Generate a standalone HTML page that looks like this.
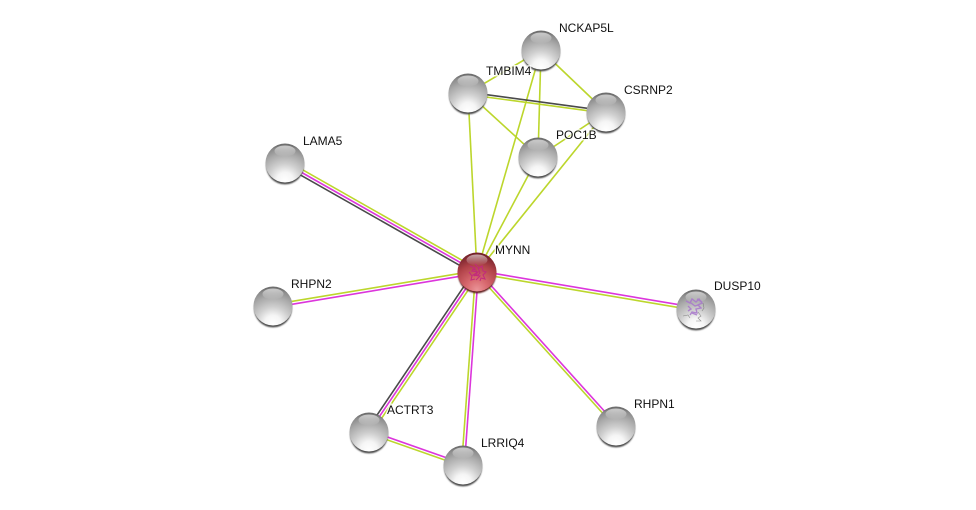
<!DOCTYPE html>
<html><head><meta charset="utf-8"><style>
html,body{margin:0;padding:0;background:#fff;width:976px;height:510px;overflow:hidden}
svg{display:block}
text{font-family:"Liberation Sans",sans-serif;font-size:12px;fill:#111;paint-order:stroke;stroke:rgba(255,255,255,.75);stroke-width:3px}
.g{stroke:#bcd62c;stroke-width:1.6;fill:none}
.m{stroke:#dc35dc;stroke-width:1.6;fill:none}
.d{stroke:#4a4a4a;stroke-width:1.6;fill:none}
</style></head><body>
<svg width="976" height="510" viewBox="0 0 976 510" xmlns="http://www.w3.org/2000/svg">
<defs>
<radialGradient id="s" cx="50%" cy="96%" r="92%" fx="50%" fy="96%">
<stop offset="0" stop-color="#ffffff"/><stop offset=".24" stop-color="#f5f5f5"/><stop offset=".48" stop-color="#cecece"/><stop offset=".76" stop-color="#a9a9a9"/><stop offset=".94" stop-color="#8c8c8c"/><stop offset="1" stop-color="#6e6e6e"/>
</radialGradient>
<radialGradient id="r" cx="50%" cy="96%" r="92%" fx="50%" fy="96%">
<stop offset="0" stop-color="#ea9498"/><stop offset=".3" stop-color="#d96a70"/><stop offset=".7" stop-color="#b04248"/><stop offset="1" stop-color="#74222a"/>
</radialGradient>
<linearGradient id="h" x1="0" y1="0" x2="0" y2="1">
<stop offset="0" stop-color="#fff" stop-opacity=".6"/><stop offset="1" stop-color="#fff" stop-opacity="0"/>
</linearGradient>
<filter id="b" x="-20%" y="-20%" width="140%" height="140%"><feGaussianBlur stdDeviation=".8"/></filter>
<g id="n">
<circle cx="0" cy="2.4" r="19" fill="#4a4a4a" filter="url(#b)"/>
<circle r="19.5" fill="url(#s)"/>
<ellipse cx="0" cy="-12" rx="10.5" ry="5.5" fill="url(#h)"/>
</g>
</defs>

<!-- green-only edges -->
<line class="g" x1="477" y1="272" x2="541" y2="50"/>
<line class="g" x1="477" y1="272" x2="468" y2="93"/>
<line class="g" x1="477" y1="272" x2="538" y2="157"/>
<line class="g" x1="477" y1="272" x2="606" y2="112"/>
<line class="g" x1="541" y1="50" x2="468" y2="93"/>
<line class="g" x1="541" y1="50" x2="606" y2="112"/>
<line class="g" x1="541" y1="50" x2="538" y2="157"/>
<line class="g" x1="468" y1="93" x2="538" y2="157"/>
<line class="g" x1="606" y1="112" x2="538" y2="157"/>
<line class="d" x1="468" y1="92.2" x2="606" y2="110.8"/>
<line class="g" x1="468" y1="94.6" x2="606" y2="113.2"/>

<!-- LAMA5 -->
<line class="g" x1="286.4" y1="160.6" x2="478.4" y2="269.6"/>
<line class="m" x1="285" y1="163" x2="477" y2="272"/>
<line class="d" x1="283.6" y1="165.4" x2="475.6" y2="274.4"/>
<!-- RHPN2 -->
<line class="g" x1="272.8" y1="304.6" x2="476.8" y2="270.6"/>
<line class="m" x1="273.2" y1="307.4" x2="477.2" y2="273.4"/>
<!-- DUSP10 -->
<line class="m" x1="477.2" y1="270.6" x2="696.2" y2="307.6"/>
<line class="g" x1="476.8" y1="273.4" x2="695.8" y2="310.4"/>
<!-- RHPN1 -->
<line class="m" x1="478" y1="271.1" x2="617" y2="425.1"/>
<line class="g" x1="476" y1="272.9" x2="615" y2="426.9"/>
<!-- LRRIQ4 -->
<line class="g" x1="475.6" y1="272" x2="461.6" y2="465"/>
<line class="m" x1="478.4" y1="272" x2="464.4" y2="465"/>
<!-- ACTRT3 -->
<line class="d" x1="474.7" y1="270.4" x2="366.7" y2="430.4"/>
<line class="m" x1="477" y1="272" x2="369" y2="432"/>
<line class="g" x1="479.3" y1="273.6" x2="371.3" y2="433.6"/>
<!-- ACTRT3-LRRIQ4 -->
<line class="m" x1="369.5" y1="430.7" x2="463.5" y2="463.7"/>
<line class="g" x1="368.5" y1="433.3" x2="462.5" y2="466.3"/>

<!-- nodes -->
<use href="#n" x="541" y="50"/>
<use href="#n" x="468" y="93"/>
<use href="#n" x="606" y="112"/>
<use href="#n" x="538" y="157"/>
<use href="#n" x="285" y="163"/>
<use href="#n" x="273" y="306"/>
<use href="#n" x="696" y="309"/>
<use href="#n" x="616" y="426"/>
<use href="#n" x="369" y="432"/>
<use href="#n" x="463" y="465"/>

<!-- MYNN -->
<circle cx="477" cy="274.2" r="19" fill="#5e1a1e" filter="url(#b)"/>
<circle cx="477" cy="272" r="19.5" fill="url(#r)"/>
<ellipse cx="477" cy="260" rx="10.5" ry="5.5" fill="url(#h)"/>
<g fill="none" stroke="#c2277f" stroke-width="1.1" opacity=".9">
<path d="M470 266l5 2-3 3 6 1-5 3 7 1-4 4M475 264l4 4 3-2 1 5 3 1-3 3 2 4-4-1-1 3"/>
<path d="M469 272l3 4-1 4 4-1M478 268l2 5-3 3M472 269l4 1 1 4-3 2"/>
</g>
<!-- DUSP10 texture -->
<g fill="none" stroke="#a877cc" stroke-width="1.4" opacity=".85">
<path d="M686 301l4 2 2-4 4 3 3-3 3 4-4 2 3 3-5 1 1 4-5-1-2 3"/>
<path d="M688 306l3 3-3 2M697 299l5 3M692 313l5 2M691 303l4 3 3-1"/>
</g>
<g fill="none" stroke="#666" stroke-width=".6" opacity=".7">
<path d="M683 316l5-1 2 3M698 312l3 4-3 2 3 3-5 0M703 303l1 5-2 3"/>
</g>

<!-- labels -->
<text x="559" y="32">NCKAP5L</text>
<text x="486" y="75">TMBIM4</text>
<text x="624" y="94">CSRNP2</text>
<text x="556" y="139">POC1B</text>
<text x="303" y="145">LAMA5</text>
<text x="495" y="254">MYNN</text>
<text x="291" y="288">RHPN2</text>
<text x="714" y="290">DUSP10</text>
<text x="634" y="408">RHPN1</text>
<text x="387" y="414">ACTRT3</text>
<text x="481" y="447">LRRIQ4</text>
</svg>
</body></html>
